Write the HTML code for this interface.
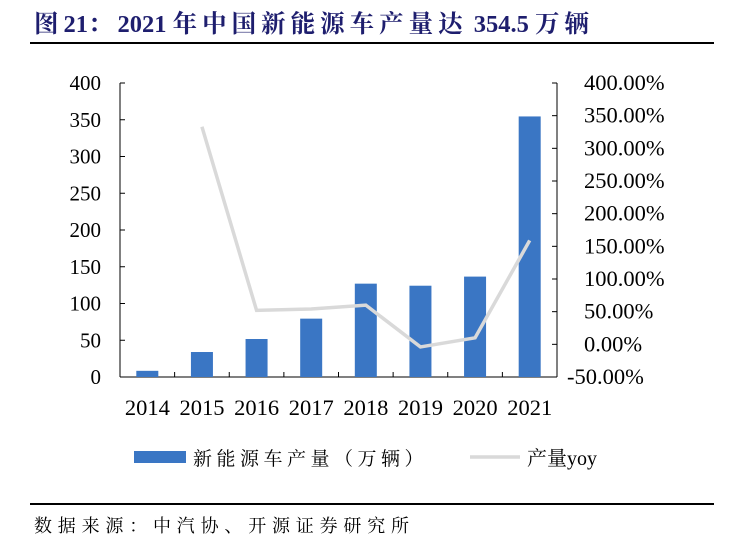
<!DOCTYPE html>
<html><head><meta charset="utf-8">
<style>
body{margin:0;width:729px;height:545px;background:#fff;overflow:hidden;font-family:"Liberation Serif","Noto Serif CJK SC",serif;}
#title{position:absolute;left:34px;top:5px;font-size:24.5px;font-weight:bold;color:#1e1e6e;white-space:nowrap;font-family:"Liberation Serif","Noto Serif CJK SC",serif;}
#title span{letter-spacing:5px;}
#src{position:absolute;left:34px;top:512px;font-size:18px;letter-spacing:5.8px;color:#000;white-space:nowrap;}
.hr{position:absolute;left:30px;width:684px;height:1.5px;background:#000;}
</style></head><body>
<div id="title"><span>图</span>21<span>：</span>2021 <span>年中国新能源车产量达</span> 354.5 <span>万辆</span></div>
<div class="hr" style="top:42px"></div>
<svg id="chart" width="729" height="545" style="position:absolute;left:0;top:0"></svg>
<div class="hr" style="top:503px"></div>
<div id="src">数据来源：中汽协、开源证券研究所</div>
<script>
const years=["2014","2015","2016","2017","2018","2019","2020","2021"];
const production=[8.4,34.0,51.7,79.4,127.0,124.2,136.6,354.5];
const yoy=[null,333,52,54,60,-4,10,159];
const leftTicks=[0,50,100,150,200,250,300,350,400];
const rightTicks=[-50,0,50,100,150,200,250,300,350,400];
const NS="http://www.w3.org/2000/svg";
const svg=document.getElementById('chart');
const x0=120,x1=557,yTop=83,yBot=377;
const bw=(x1-x0)/years.length;
const yL=v=>yBot-(v-0)/400*(yBot-yTop);
const yR=v=>yBot-(v+50)/450*(yBot-yTop);
const xC=i=>x0+bw*(i+0.5);
function mk(t,a){const e=document.createElementNS(NS,t);for(const k in a)e.setAttribute(k,a[k]);svg.appendChild(e);return e;}
let ax=mk('line',{x1:x0,y1:yTop,x2:x0,y2:yBot,stroke:'#000'});


let ax2=mk('line',{x1:x1,y1:yTop,x2:x1,y2:yBot,stroke:'#000'});


let ax3=mk('line',{x1:x0,y1:yBot,x2:x1,y2:yBot,stroke:'#000'});


leftTicks.forEach(v=>{const y=yL(v);
mk('line',{x1:x0,y1:y,x2:x0+5,y2:y,stroke:'#000'});
const t=mk('text',{x:101,y:y+7,'text-anchor':'end','font-size':21});t.textContent=v;

});
rightTicks.forEach(v=>{const y=yR(v);
mk('line',{x1:x1-5,y1:y,x2:x1,y2:y,stroke:'#000'});
const t=mk('text',{x:v<0?567:584,y:y+7,'font-size':22.5});t.textContent=v.toFixed(2)+'%';

});
years.forEach((yr,i)=>{
mk('line',{x1:x0+bw*i,y1:yBot,x2:x0+bw*i,y2:yBot-5,stroke:'#000'});
const t=mk('text',{x:xC(i),y:415,'text-anchor':'middle','font-size':22.5});t.textContent=yr;


const b=mk('rect',{x:xC(i)-11,y:yL(production[i]),width:22,height:yBot-yL(production[i]),fill:'#3a76c4'});

});
let pts=[];yoy.forEach((v,i)=>{if(v!==null)pts.push(xC(i)+','+yR(v));});
const pl=mk('polyline',{points:pts.join(' '),fill:'none',stroke:'#d9d9d9','stroke-width':3.5});


const lr=mk('rect',{x:134,y:451,width:52,height:12,fill:'#3a76c4'});


const lt=mk('text',{x:193,y:465,'font-size':19,'letter-spacing':4.5});lt.textContent='新能源车产量（万辆）';


const ll=mk('line',{x1:470,y1:457,x2:520,y2:457,stroke:'#d9d9d9','stroke-width':3.5});


const lt2=mk('text',{x:527,y:465,'font-size':20});lt2.textContent='产量yoy';


</script>
</body></html>
